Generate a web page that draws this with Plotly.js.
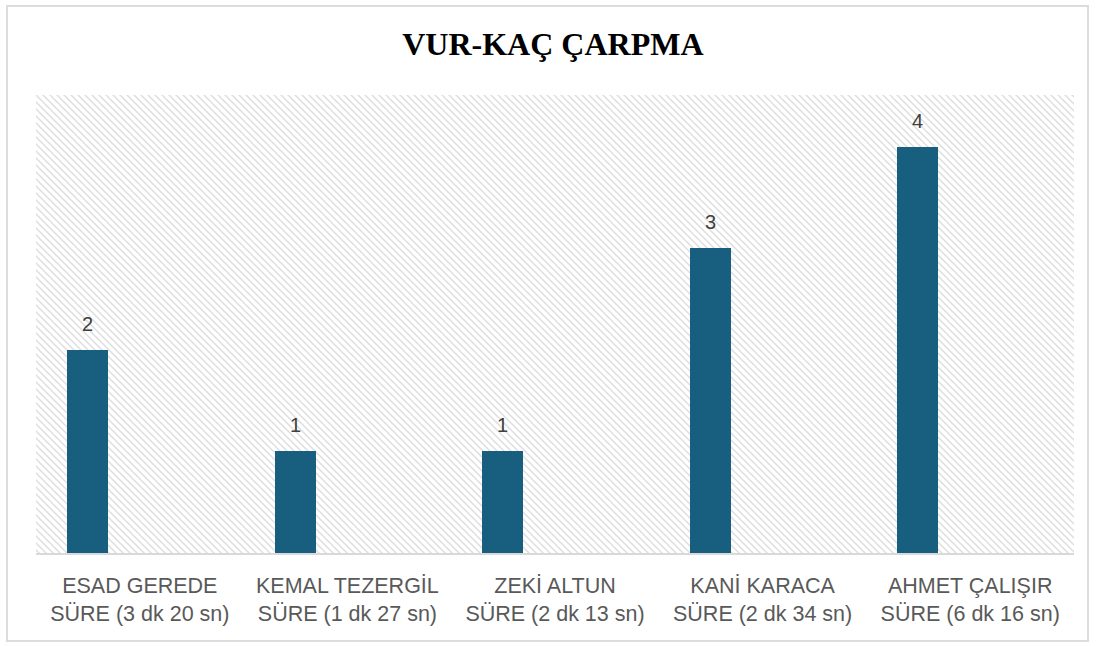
<!DOCTYPE html>
<html>
<head>
<meta charset="utf-8">
<script src="https://cdn.plot.ly/plotly-3.0.1.min.js"></script>
<style>
  html, body { margin: 0; padding: 0; background: #ffffff; }
  #frame { position: absolute; left: 6px; top: 5px; width: 1083px; height: 637px; border: 2px solid #dcdcdc; box-sizing: border-box; pointer-events: none; z-index: 2; }
  #chart { position: absolute; left: 0; top: 0; width: 1097px; height: 646px; }
</style>
</head>
<body>
<div id="chart"></div>
<div id="frame"></div>
<script>
// Data
const names = ["ESAD GEREDE", "KEMAL TEZERGİL", "ZEKİ ALTUN", "KANİ KARACA", "AHMET ÇALIŞIR"];
const durations = ["SÜRE (3 dk 20 sn)", "SÜRE (1 dk 27 sn)", "SÜRE (2 dk 13 sn)", "SÜRE (2 dk 34 sn)", "SÜRE (6 dk 16 sn)"];
const values = [2, 1, 1, 3, 4];
const chartTitle = "VUR-KAÇ ÇARPMA";

const categories = names.map((n, i) => n + "<br>" + durations[i]);

const barWidth = 0.1975;
const barOffset = -0.351;

const hatchSvg =
  '<svg xmlns="http://www.w3.org/2000/svg" width="1038" height="458" viewBox="0 0 1038 458">' +
  '<defs><pattern id="h" patternUnits="userSpaceOnUse" width="7" height="7">' +
  '<path d="M-1,-1 L8,8 M-8,-1 L1,8 M6,-1 L15,8" stroke="#dedede" stroke-width="1.5"/>' +
  '</pattern></defs><rect width="1038" height="458" fill="url(#h)"/></svg>';
const hatchUri = "data:image/svg+xml;charset=utf-8," + encodeURIComponent(hatchSvg);

const trace = {
  type: "bar",
  x: categories,
  y: values,
  width: barWidth,
  offset: barOffset,
  marker: { color: "#175e7f" },
  hoverinfo: "skip"
};

const annotations = values.map((v, i) => ({
  x: i + barOffset + barWidth / 2,
  y: v,
  xref: "x",
  yref: "y",
  text: String(v),
  showarrow: false,
  yanchor: "bottom",
  yshift: 13,
  font: { family: "Liberation Sans, Arial, sans-serif", size: 20, color: "#404040" }
}));

const layout = {
  width: 1097,
  height: 646,
  margin: { l: 36, r: 23, t: 95, b: 93 },
  paper_bgcolor: "rgba(0,0,0,0)",
  plot_bgcolor: "rgba(0,0,0,0)",
  title: {
    text: "<b>" + chartTitle + "</b>",
    x: 0.504,
    xanchor: "center",
    y: 0.932,
    yanchor: "middle",
    font: { family: "Liberation Serif, Times New Roman, serif", size: 32, color: "#000000" }
  },
  xaxis: {
    type: "category",
    range: [-0.5, 4.5],
    showgrid: false,
    zeroline: false,
    showline: true,
    linecolor: "#d9d9d9",
    linewidth: 2,
    ticks: "outside",
    ticklen: 12,
    tickcolor: "rgba(0,0,0,0)",
    tickfont: { family: "Liberation Sans, Arial, sans-serif", size: 21.5, color: "#595959" },
    fixedrange: true
  },
  yaxis: {
    range: [0, 4.51],
    visible: false,
    showgrid: false,
    zeroline: false,
    fixedrange: true
  },
  images: [{
    source: hatchUri,
    xref: "paper", yref: "paper",
    x: 0, y: 1, sizex: 1, sizey: 1,
    xanchor: "left", yanchor: "top",
    sizing: "stretch",
    layer: "below"
  }],
  annotations: annotations,
  showlegend: false,
  bargap: 0
};

Plotly.newPlot("chart", [trace], layout, { displayModeBar: false, staticPlot: true });
</script>
</body>
</html>
